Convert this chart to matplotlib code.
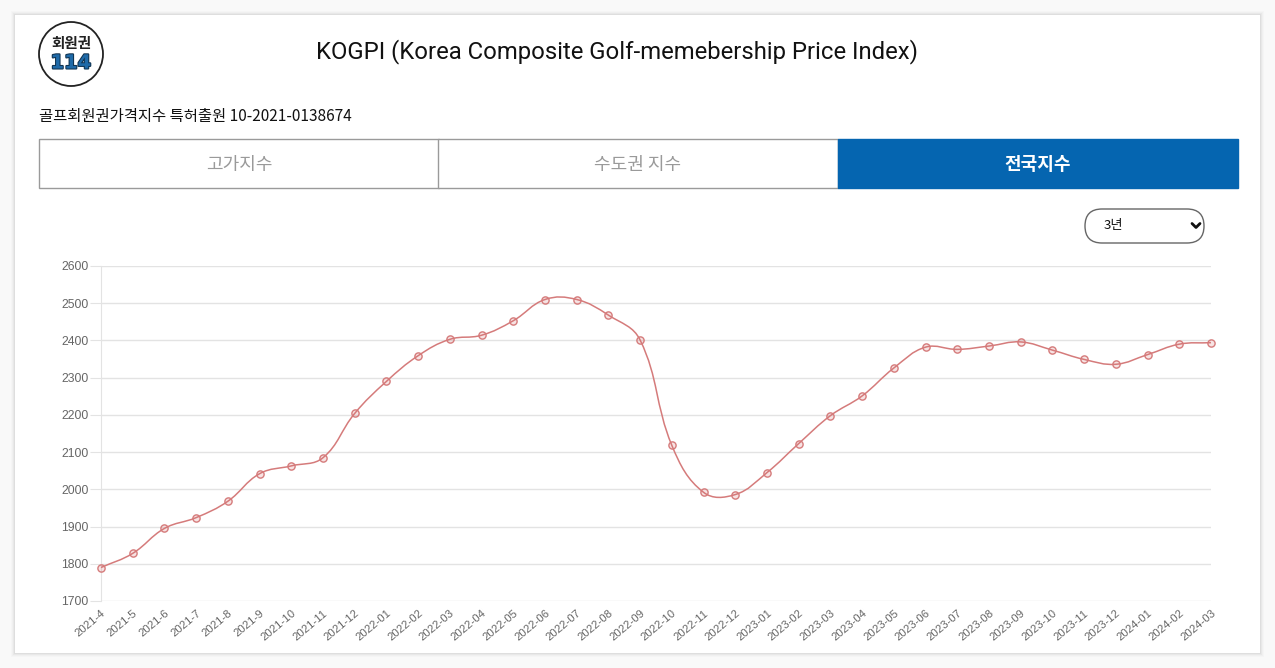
import matplotlib
matplotlib.use("Agg")
import matplotlib.pyplot as plt
from matplotlib.patches import Rectangle, FancyBboxPatch, Circle, PathPatch
from matplotlib.path import Path
from matplotlib.lines import Line2D
from matplotlib.transforms import IdentityTransform
import matplotlib.patheffects as pe
import numpy as np

plt.rcParams['font.family'] = ['Noto Sans CJK KR', 'DejaVu Sans']

# ---- data ----
months = ["2021-4", "2021-5", "2021-6", "2021-7", "2021-8", "2021-9", "2021-10", "2021-11",
          "2021-12", "2022-01", "2022-02", "2022-03", "2022-04", "2022-05", "2022-06", "2022-07",
          "2022-08", "2022-09", "2022-10", "2022-11", "2022-12", "2023-01", "2023-02", "2023-03",
          "2023-04", "2023-05", "2023-06", "2023-07", "2023-08", "2023-09", "2023-10", "2023-11",
          "2023-12", "2024-01", "2024-02", "2024-03"]
index_values = [1790, 1828, 1895, 1924, 1968, 2042, 2063, 2085,
                2204, 2290, 2359, 2403, 2414, 2453, 2510, 2510,
                2468, 2401, 2118, 1992, 1986, 2045, 2123, 2198,
                2251, 2326, 2382, 2376, 2385, 2396, 2374, 2349,
                2336, 2362, 2390, 2394]
y_ticks = [1700, 1800, 1900, 2000, 2100, 2200, 2300, 2400, 2500, 2600]
tabs = ["고가지수", "수도권 지수", "전국지수"]
title = "KOGPI (Korea Composite Golf-memebership Price Index)"
subtitle = "골프회원권가격지수 특허출원 10-2021-0138674"
period = "3년"

W, H = 1275, 668
fig = plt.figure(figsize=(W / 100, H / 100), dpi=100)
fig.patch.set_facecolor("#f9f9f9")
PX = IdentityTransform()  # pixel coordinates, origin bottom-left


def fx(x):
    return x / W


def fy(y):
    return 1 - y / H


# card with soft shadow
for d, a in [(4, 0.015), (3, 0.02), (2, 0.03), (1, 0.04)]:
    fig.patches.append(Rectangle((15 - d, H - 653 - d), 1245 + 2 * d, 638 + 2 * d,
                                 transform=PX, facecolor="black", alpha=a,
                                 edgecolor="none", zorder=0))
fig.patches.append(Rectangle((15, H - 653), 1245, 638, transform=PX,
                             facecolor="white", edgecolor="none", zorder=1))

# logo
fig.patches.append(Circle((71, H - 54), 32, transform=PX,
                          facecolor="white", edgecolor="#222222", linewidth=1.3, zorder=2))
fig.text(fx(71), fy(43), "회원권", ha="center", va="center", fontsize=10.5,
         fontweight="bold", color="#222222", zorder=3)
fig.text(fx(71), fy(63), "114", ha="center", va="center", fontsize=14, fontweight="bold",
         color="#1f6aa8", zorder=3, family=["DejaVu Sans"],
         path_effects=[pe.withStroke(linewidth=1.5, foreground="#10324f")])

# title & subtitle
fig.text(fx(617), fy(52), title, ha="center", va="center", fontsize=17.2, color="#111111",
         family=["Roboto", "DejaVu Sans"], zorder=3)
fig.text(fx(39), fy(117), subtitle, ha="left", va="center", fontsize=11.1, color="#111111",
         zorder=3)

# tabs
tab_x = [39, 438, 838]
tab_w = 400
for i, (tx, lab) in enumerate(zip(tab_x, tabs)):
    active = i == 2
    fig.patches.append(Rectangle((tx, H - 188), tab_w, 49, transform=PX,
                                 facecolor="#0565b0" if active else "white",
                                 edgecolor="#0565b0" if active else "#9a9a9a",
                                 linewidth=1.0, zorder=2))
    fig.text(fx(tx + 200), fy(165), lab, ha="center", va="center", fontsize=13,
             color="white" if active else "#9a9a9a",
             fontweight="bold" if active else "normal", zorder=3)

# period dropdown
fig.patches.append(FancyBboxPatch((1085, H - 243), 119, 34,
                                  boxstyle="round,pad=0,rounding_size=17", transform=PX,
                                  facecolor="white", edgecolor="#666666", linewidth=1.0,
                                  zorder=2))
fig.text(fx(1104), fy(226), period, ha="left", va="center", fontsize=9.5, color="#111111",
         zorder=3)
fig.lines.append(Line2D([fx(1192), fx(1196), fx(1200)], [fy(223.5), fy(227.5), fy(223.5)],
                        transform=fig.transFigure, color="#111111", linewidth=2.0, zorder=3,
                        solid_capstyle="round", solid_joinstyle="round"))

# ---- chart ----
ax = fig.add_axes([fx(101), fy(601), (1211 - 101) / W, (601 - 266) / H], zorder=4)
ax.set_facecolor("none")
x = np.arange(len(months))
ax.set_xlim(0, len(months) - 1)
ax.set_ylim(y_ticks[0], y_ticks[-1])
ax.set_yticks(y_ticks)
ax.set_xticks(x)
ax.set_xticklabels(months, rotation=40, ha="right", va="top", rotation_mode="anchor",
                   fontsize=8.2, color="#666666", family=["Liberation Sans", "DejaVu Sans"])
for t in ax.get_yticklabels():
    t.set_fontsize(8.8)
    t.set_color("#666666")
    t.set_family(["Liberation Sans", "DejaVu Sans"])
ax.tick_params(axis="y", length=8, color="#e3e3e3", pad=1)
ax.tick_params(axis="x", length=0, pad=5)
ax.grid(axis="y", color="#e3e3e3", linewidth=1.0)
for s in ["top", "right", "bottom"]:
    ax.spines[s].set_visible(False)
ax.spines["left"].set_color("#e3e3e3")

# Chart.js-style spline (tension 0.4) computed in display space
line_color = "#d57b7b"
pts = ax.transData.transform(np.column_stack([x, index_values]))
tension = 0.4
n = len(pts)
cp_prev = np.zeros_like(pts)
cp_next = np.zeros_like(pts)
for i in range(n):
    prev = pts[i - 1] if i > 0 else pts[i]
    nxt = pts[i + 1] if i < n - 1 else pts[i]
    cur = pts[i]
    d01 = np.hypot(*(cur - prev))
    d12 = np.hypot(*(nxt - cur))
    tot = d01 + d12
    s01 = d01 / tot if tot else 0
    s12 = d12 / tot if tot else 0
    cp_prev[i] = cur - tension * s01 * (nxt - prev)
    cp_next[i] = cur + tension * s12 * (nxt - prev)
verts = [pts[0]]
codes = [Path.MOVETO]
for i in range(n - 1):
    verts += [cp_next[i], cp_prev[i + 1], pts[i + 1]]
    codes += [Path.CURVE4] * 3
verts = ax.transData.inverted().transform(np.array(verts))
ax.add_patch(PathPatch(Path(verts, codes), facecolor="none", edgecolor=line_color,
                       linewidth=1.1, transform=ax.transData, clip_on=False, zorder=5))
ax.plot(x, index_values, linestyle="none", marker="o", markersize=5.2,
        markerfacecolor=(0.85, 0.45, 0.45, 0.2), markeredgecolor=line_color,
        markeredgewidth=1.0, clip_on=False, zorder=6)

fig.savefig("out.png", dpi=100, facecolor=fig.get_facecolor())
